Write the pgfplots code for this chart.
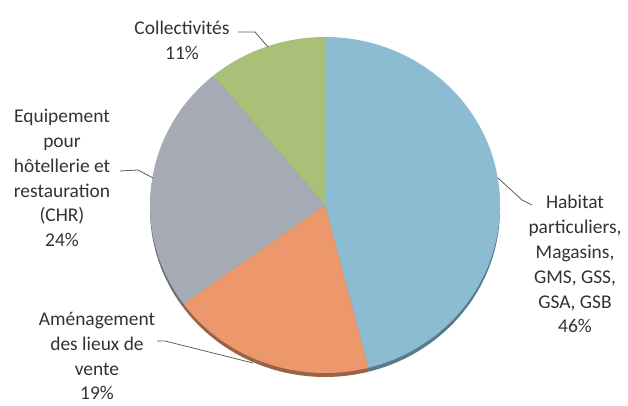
\documentclass[border=0pt]{standalone}
\usepackage{fontspec}
\setmainfont{Carlito}
\usepackage{pgfplots}
\usepackage{pgfplotstable}
\pgfplotsset{compat=1.18}

\definecolor{cblue}{RGB}{139,188,210}
\definecolor{corange}{RGB}{236,152,108}
\definecolor{cgray}{RGB}{165,170,180}
\definecolor{cgreen}{RGB}{168,192,120}
\definecolor{txt}{RGB}{50,50,50}

% share of each segment, clockwise from 12 o'clock
\pgfplotstableread{
pct col
46 cblue
19 corange
24 cgray
11 cgreen
}\slices

\begin{document}
\begin{tikzpicture}
\begin{axis}[
  width=628bp, height=406bp, scale only axis,
  xmin=0, xmax=628, ymin=0, ymax=406,
  hide axis, clip=false,
]
% keep the whole canvas
\path (axis cs:0,0) rectangle (axis cs:628,406);
% rim (shadow) then the slices
\foreach \dy/\shade in {-4/65, 0/100}{%
  \xdef\cum{0}%
  \pgfplotstableforeachcolumnelement{pct}\of\slices\as\p{%
    \pgfplotstablegetelem{\pgfplotstablerow}{col}\of\slices
    \let\c\pgfplotsretval
    \pgfmathsetmacro\a{90-3.6*\cum}%
    \pgfmathsetmacro\b{90-3.6*(\cum+\p)}%
    \pgfmathsetmacro\cumnew{\cum+\p}%
    \xdef\cum{\cumnew}%
    \pgfmathsetmacro\cy{201+\dy}%
    \edef\tmp{\noexpand\fill[\c!\shade!black] (axis cs:325,\cy) -- ++(\a:175bp and 168bp)
      arc[start angle=\a, end angle=\b, x radius=175bp, y radius=168bp] -- cycle;}%
    \tmp
  }%
}

\tikzset{lbl/.style={align=center, text=txt, font=\fontsize{19.5}{25}\selectfont, inner sep=0pt}}
\node[lbl] at (axis cs:182,366) {Collectivités\\11\%};
\node[lbl] at (axis cs:62,228) {Equipement\\pour\\hôtellerie et\\restauration\\(CHR)\\24\%};
\node[lbl] at (axis cs:97,50) {Aménagement\\des lieux de\\vente\\19\%};
\node[lbl] at (axis cs:575,142) {Habitat\\particuliers,\\Magasins,\\GMS, GSS,\\GSA, GSB\\46\%};

\draw[txt!80, line width=0.8pt] (axis cs:238,374) -- (axis cs:255,374) -- (axis cs:268,359);
\draw[txt!80, line width=0.8pt] (axis cs:120,235) -- (axis cs:138,236) -- (axis cs:153,228);
\draw[txt!80, line width=0.8pt] (axis cs:157,65) -- (axis cs:165,65) -- (axis cs:253,43);
\draw[txt!80, line width=0.8pt] (axis cs:498,228) -- (axis cs:522,206) -- (axis cs:532,201);
\end{axis}
\end{tikzpicture}
\end{document}
